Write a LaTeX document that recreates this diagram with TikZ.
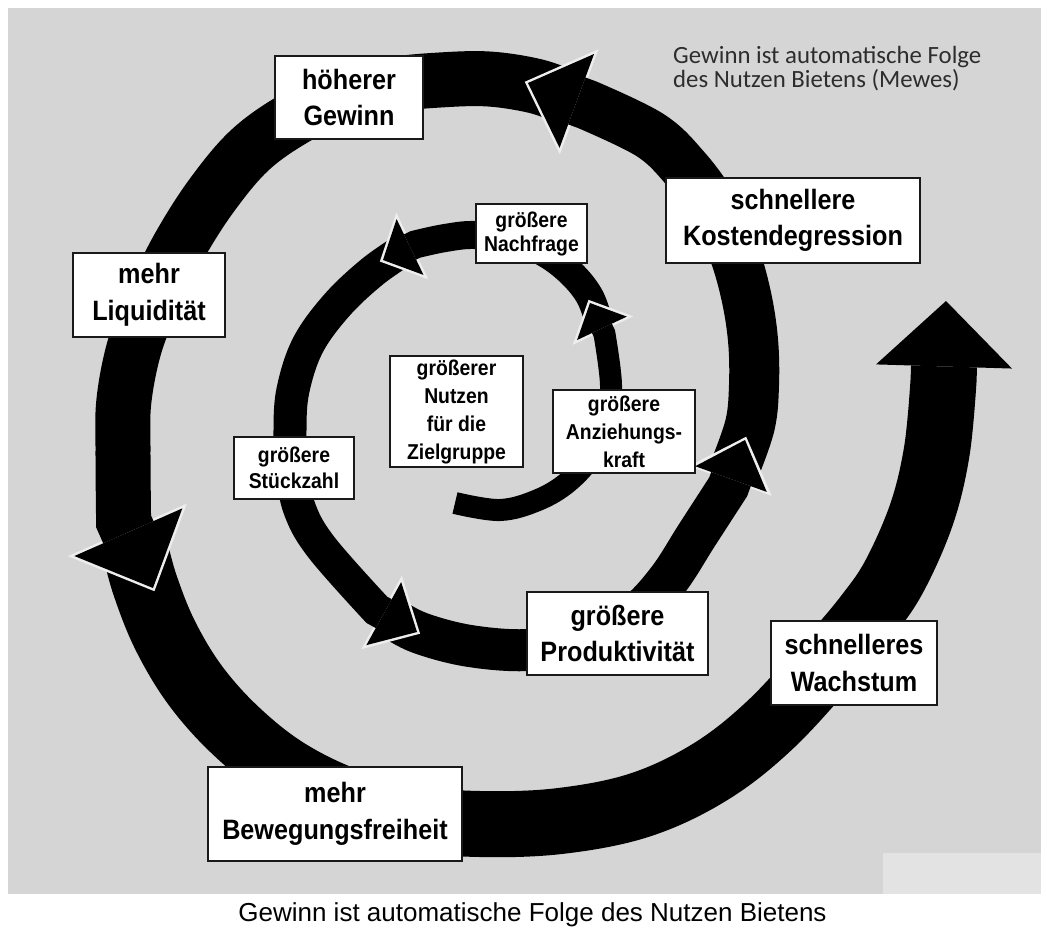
\documentclass[tikz,border=0pt]{standalone}
\usepackage{fontspec}
\setmainfont{Liberation Sans}
\newfontfamily\labelfont[FakeStretch=0.9]{Liberation Sans}
\newfontfamily\notefont{Carlito}
\usepackage{tikz}
\usetikzlibrary{calc}
\usetikzlibrary{arrows.meta}

\definecolor{paper}{RGB}{213,213,213}
\definecolor{patch}{RGB}{227,227,227}
\definecolor{rim}{RGB}{238,238,238}
\definecolor{notegray}{RGB}{45,45,45}

\tikzset{
	bigbox/.style={rectangle, draw=black!90, line width=2.4pt, fill=white, inner sep=0pt, align=center, font=\labelfont\bfseries\fontsize{28}{36.5}\selectfont},
	smallbox/.style={rectangle, draw=black!90, line width=1.8pt, fill=white, inner sep=0pt, align=center, font=\labelfont\bfseries\fontsize{21.5}{28}\selectfont},
	band/.style={draw=black, line width=#1pt},
	rimline/.style={draw=rim, line width=0.1pt},
}

\begin{document}
\begin{tikzpicture}[x=1pt, y=-1pt]
		\useasboundingbox (0,0) rectangle (1047,927);
		\fill[white] (0,0) rectangle (1047,927);
		\fill[paper] (8,8) rectangle (1041,894);
		\fill[patch] (883,853) rectangle (1041,894);

		%arrow heads: base centre b, tip t
		\coordinate (b1) at (602,328.5);
		\coordinate (t1) at (590,303);
		\coordinate (b2) at (410,247);
		\coordinate (t2) at (383,260);
		\coordinate (b3) at (383.5,613.5);
		\coordinate (t3) at (417,632);
		\coordinate (b4) at (731,479);
		\coordinate (t4) at (745,440);
		\coordinate (b5) at (577,101);
		\coordinate (t5) at (528,83);
		\coordinate (b6) at (128.5,532.5);
		\coordinate (t6) at (153,588);
		\coordinate (b7) at (944,366.5);
		\coordinate (t7) at (946,301);
		%band ends, a little behind each base
		\foreach \k in {1,...,7}
			\coordinate (e\k) at ($(t\k)!1.2!(b\k)$);
		%starts, hidden under the head before
		\coordinate (s1) at (455,503);
		\coordinate (s2) at ($(b1)!0.25!(t1)$);
		\coordinate (s3) at ($(b2)!0.25!(t2)$);
		\coordinate (s4) at ($(b3)!0.25!(t3)$);
		\coordinate (s5) at ($(b4)!0.25!(t4)$);
		\coordinate (s6) at ($(b5)!0.25!(t5)$);
		\coordinate (s7) at ($(b6)!0.25!(t6)$);

		%spiral, outside first
		\draw [band=66, -{Triangle[length=65.5pt,width=136pt,line width=0pt]}] plot [smooth, tension=0.6] coordinates {(s7) (145,585) (165,635) (195,685) (235,730) (285,770) (345,800) (410,818) (480,824) (560,821) (640,805) (710,772) (770,725) (830,660) (868,615) (895,575) (922,513) (937,450) (e7)} -- (t7);

		\draw [rimline, -{Triangle[length=67pt,width=130pt,line width=0pt]}] ($(b6)!-12pt!(t6)$) -- ($(t6)!-3.5pt!(b6)$);
		\draw [band=55, -{Triangle[length=61pt,width=118pt,line width=0pt]}] plot [smooth, tension=0.6] coordinates {(s6) (535,86) (489,79) (440,80) (390,85) (340,97) (295,118) (250,150) (212,195) (180,245) (155,295) (135,345) (124,400) (123,450) (e6)} -- (t6);

		\draw [rimline, -{Triangle[length=58pt,width=112pt,line width=0pt]}] ($(b5)!-12pt!(t5)$) -- ($(t5)!-3.5pt!(b5)$);
		\draw [band=50, -{Triangle[length=52pt,width=100pt,line width=0pt]}] plot [smooth, tension=0.6] coordinates {(s5) (750,425) (754,385) (753,340) (746,295) (733,250) (712,205) (685,168) (650,135) (e5)} -- (t5);

		\draw [rimline, -{Triangle[length=47pt,width=88pt,line width=0pt]}] ($(b4)!-12pt!(t4)$) -- ($(t4)!-3.5pt!(b4)$);
		\draw [band=42, -{Triangle[length=41.5pt,width=76pt,line width=0pt]}] plot [smooth, tension=0.6] coordinates {(s4) (420,633) (470,646) (530,650) (590,640) (635,615) (668,580) (697,535) (e4)} -- (t4);

		\draw [rimline, -{Triangle[length=44pt,width=84pt,line width=0pt]}] ($(b3)!-12pt!(t3)$) -- ($(t3)!-3.5pt!(b3)$);
		\draw [band=33, -{Triangle[length=38pt,width=72pt,line width=0pt]}] plot [smooth, tension=0.6] coordinates {(s3) (372,272) (337,305) (308,345) (293,390) (290,430) (292,470) (300,510) (322,548) (e3)} -- (t3);

		\draw [rimline, -{Triangle[length=36pt,width=74pt,line width=0pt]}] ($(b2)!-12pt!(t2)$) -- ($(t2)!-3.5pt!(b2)$);
		\draw [band=28, -{Triangle[length=30pt,width=62pt,line width=0pt]}] plot [smooth, tension=0.6] coordinates {(s2) (590,297) (573,275) (548,255) (515,240) (475,235) (445,238) (e2)} -- (t2);

		\draw [rimline, -{Triangle[length=34pt,width=67pt,line width=0pt]}] ($(b1)!-12pt!(t1)$) -- ($(t1)!-3.5pt!(b1)$);
		\draw [band=22, -{Triangle[length=28pt,width=55pt,line width=0pt]}] plot [smooth, tension=0.6] coordinates {(s1) (500,510) (538,500) (568,482) (592,455) (606,420) (611,385) (e1)} -- (t1);

		%boxes
		\node [bigbox] at (349,97.5) (gewinn) [minimum width=148pt, minimum height=83pt] {höherer\\Gewinn};
		\node [bigbox] at (793,220.5) (kosten) [minimum width=254pt, minimum height=85pt] {schnellere\\Kostendegression};
		\node [bigbox] at (149,295) (liquiditaet) [minimum width=152pt, minimum height=84pt] {mehr\\Liquidität};
		\node [bigbox] at (617.5,633.5) (produkt) [minimum width=181pt, minimum height=83pt] {größere\\Produktivität};
		\node [bigbox] at (854,663) (wachstum) [minimum width=166pt, minimum height=84pt] {schnelleres\\Wachstum};
		\node [bigbox] at (335,814) (bewegung) [minimum width=254pt, minimum height=94pt] {mehr\\Bewegungsfreiheit};

		\node [smallbox, font=\labelfont\bfseries\fontsize{21.5}{24}\selectfont] at (531.5,233.5) (nachfrage) [minimum width=111pt, minimum height=59pt] {größere\\Nachfrage};
		\node [smallbox] at (456.5,411.5) (nutzen) [minimum width=133pt, minimum height=111pt] {größerer\\Nutzen\\für die\\Zielgruppe};
		\node [smallbox] at (624,431.5) (anziehung) [minimum width=142pt, minimum height=83pt] {größere\\Anziehungs-\\kraft};
		\node [smallbox, font=\labelfont\bfseries\fontsize{21.5}{26}\selectfont] at (294,468) (stueckzahl) [minimum width=120pt, minimum height=62pt] {größere\\Stückzahl};

		%text
		\node [anchor=base west, align=left, inner sep=0pt, text=notegray, font=\notefont\fontsize{24.8}{23.5}\selectfont] at (673,87) (note) {Gewinn ist automatische Folge\\des Nutzen Bietens (Mewes)};
		\node [anchor=base, inner sep=0pt, font=\fontsize{26}{30}\selectfont] at (532.5,921) (caption) {Gewinn ist automatische Folge des Nutzen Bietens};
\end{tikzpicture}
\end{document}
